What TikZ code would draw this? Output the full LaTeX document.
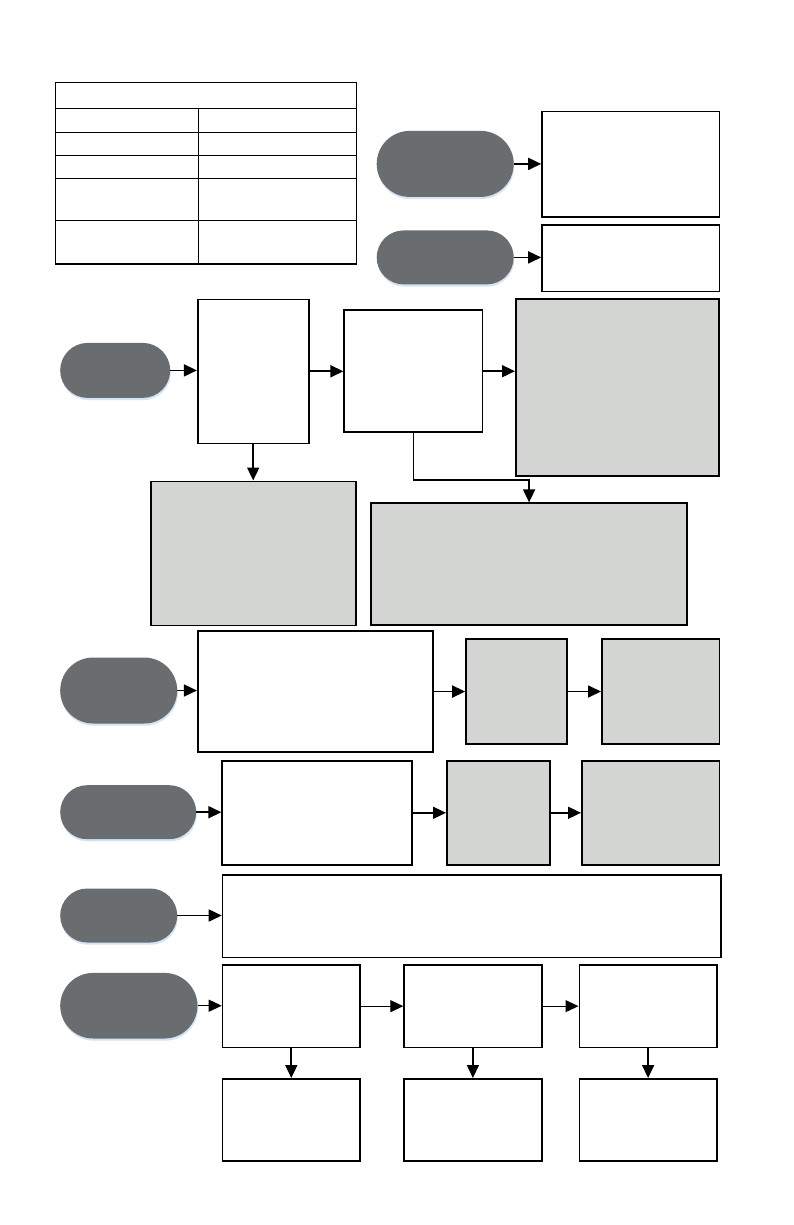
\documentclass[tikz,border=0pt]{standalone}
\usetikzlibrary{arrows.meta}
\definecolor{pillgray}{HTML}{6A6D70}
\definecolor{boxgray}{HTML}{D3D5D2}
\definecolor{glowblue}{HTML}{D4E4F4}
\begin{document}
\begin{tikzpicture}[x=1pt,y=-1pt,
  box/.style={draw=black,line width=1.6pt,fill=white,inner sep=0pt,anchor=north west},
  gbox/.style={box,fill=boxgray},
  pill/.style={fill=pillgray,inner sep=0pt,anchor=north west,rounded corners=#1,
    preaction={fill=glowblue,transform canvas={xshift=0.6pt,yshift=-2.2pt}}},
  arr/.style={line width=1.7pt,-{Triangle[length=13pt,width=12pt]}},
  thinarr/.style={line width=1.1pt,-{Triangle[length=13pt,width=12pt]}},
  tline/.style={line width=1.4pt}]
\fill[white] (0,0) rectangle (793,1225);
\useasboundingbox (0,0) rectangle (793,1225);
% table
\node[draw=black,line width=1.4pt,inner sep=0pt,anchor=north west,minimum width=301.5pt,minimum height=181.5pt] (tab) at (54.5,81.7) {};
\draw[tline] (tab.west |- 0,108.3) -- (tab.east |- 0,108.3);
\draw[tline] (tab.west |- 0,132.3) -- (tab.east |- 0,132.3);
\draw[tline] (tab.west |- 0,155.3) -- (tab.east |- 0,155.3);
\draw[tline] (tab.west |- 0,178.3) -- (tab.east |- 0,178.3);
\draw[tline] (tab.west |- 0,220.3) -- (tab.east |- 0,220.3);
\draw[tline] (198.3,108.3) -- (tab.south -| 198.3,0);
% row 1-2
\node[pill=33pt,minimum width=137pt,minimum height=66pt] (p1) at (376.5,130.7) {};
\node[box,minimum width=177.5pt,minimum height=105pt] (b1) at (541.2,110.9) {};
\node[pill=27pt,minimum width=137pt,minimum height=54pt] (p2) at (376.5,230.2) {};
\node[box,minimum width=177.5pt,minimum height=66.5pt] (b2) at (541.2,224.1) {};
\draw[arr] (p1.east) -- (p1.east -| b1.west);
\draw[arr] (p2.east) -- (p2.east -| b2.west);
% row 3
\node[pill=27.5pt,minimum width=110pt,minimum height=55pt] (p3) at (60,342.7) {};
\node[box,minimum width=111pt,minimum height=144pt] (A) at (196.9,298.5) {};
\node[box,minimum width=138.4pt,minimum height=122pt] (B) at (343.4,309.4) {};
\node[gbox,minimum width=203.3pt,minimum height=177pt] (C) at (515,298.4) {};
\node[gbox,minimum width=205pt,minimum height=144pt] (E) at (150,480.5) {};
\node[gbox,minimum width=316pt,minimum height=122pt] (D) at (370.3,502.4) {};
\coordinate (k) at (470,480);
\draw[arr] (p3.east) -- (p3.east -| A.west);
\draw[arr] (A.east) -- (A.east -| B.west);
\draw[arr] (B.east) -- (B.east -| C.west);
\draw[arr] (A.south) -- (A.south |- E.north);
\draw[arr] (B.south) |- (k) -| (D.north);
% row 4
\node[pill=33pt,minimum width=117pt,minimum height=66pt] (p4) at (60,657.3) {};
\node[box,minimum width=235pt,minimum height=121.3pt] (F) at (196.9,630.1) {};
\node[gbox,minimum width=101pt,minimum height=105pt] (G) at (465.2,638.2) {};
\node[gbox,minimum width=117.5pt,minimum height=105pt] (H) at (601,638.2) {};
\draw[arr] (p4.east) -- (p4.east -| F.west);
\draw[arr] (F.east) -- (F.east -| G.west);
\draw[arr] (G.east) -- (G.east -| H.west);
% row 5
\node[pill=27pt,minimum width=136pt,minimum height=54pt] (p5) at (60,785) {};
\node[box,minimum width=190pt,minimum height=104pt] (I) at (221.4,760) {};
\node[gbox,minimum width=103pt,minimum height=104pt] (J) at (446,760) {};
\node[gbox,minimum width=137.5pt,minimum height=104pt] (K) at (581,760) {};
\draw[arr] (p5.east) -- (p5.east -| I.west);
\draw[arr] (I.east) -- (I.east -| J.west);
\draw[arr] (J.east) -- (J.east -| K.west);
% row 6
\node[pill=27pt,minimum width=117pt,minimum height=54pt] (p6) at (60,888.3) {};
\node[box,minimum width=498.5pt,minimum height=82.7pt] (L) at (221.7,874) {};
\draw[arr] (p6.east) -- (p6.east -| L.west);
% row 7
\node[pill=33pt,minimum width=137.3pt,minimum height=65.6pt] (p7) at (60,972.7) {};
\node[box,minimum width=137.6pt,minimum height=82.7pt] (M) at (221.7,964) {};
\node[box,minimum width=137.6pt,minimum height=82.7pt] (N) at (403.3,964) {};
\node[box,minimum width=137.6pt,minimum height=82.7pt] (O) at (578.5,964) {};
\node[box,minimum width=137.6pt,minimum height=82pt] (P1) at (221.7,1078) {};
\node[box,minimum width=137.6pt,minimum height=82pt] (P2) at (403.3,1078) {};
\node[box,minimum width=137.6pt,minimum height=82pt] (P3) at (578.5,1078) {};
\draw[thinarr] (p7.east) -- (p7.east -| M.west);
\draw[thinarr] (M.east) -- (M.east -| N.west);
\draw[thinarr] (N.east) -- (N.east -| O.west);
\draw[arr] (M.south) -- (P1.north);
\draw[arr] (N.south) -- (P2.north);
\draw[arr] (O.south) -- (P3.north);
\end{tikzpicture}
\end{document}
